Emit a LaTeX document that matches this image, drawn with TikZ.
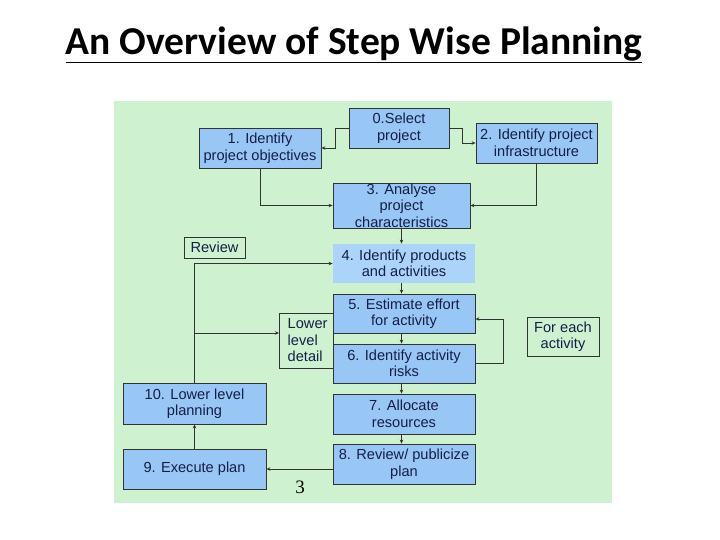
\documentclass[tikz,border=0pt]{standalone}
\usepackage{fontspec}
\setmainfont{Liberation Sans}
\newfontfamily\titlefont{Carlito}
\newfontfamily\seriffont{Liberation Serif}
\usetikzlibrary{arrows.meta}
\definecolor{panel}{RGB}{206,242,208}
\definecolor{boxblue}{RGB}{153,199,245}
\definecolor{boxlight}{RGB}{172,212,250}
\definecolor{txt}{RGB}{20,30,70}
\begin{document}
\begin{tikzpicture}[x=1pt,y=-1pt,
  stepbox/.style={draw=black!80,line width=0.8pt,fill=boxblue,text=txt,align=center,inner sep=0pt,font=\fontsize{14.6}{16.5}\selectfont},
  plainbox/.style={draw=black!80,line width=0.8pt,text=txt,align=center,inner sep=0pt,font=\fontsize{14.6}{16.5}\selectfont},
  conn/.style={draw=black!80,line width=0.8pt,-{Stealth[length=4pt,width=3.5pt]}}]
\useasboundingbox (0,0) rectangle (720,540);
\fill[white] (0,0) rectangle (720,540);
\fill[panel] (114,101) rectangle (612,503);
\node[font=\titlefont\bfseries\fontsize{39.5}{44}\selectfont] (title) at (354,45) {\underline{An Overview of Step Wise Planning}};
\node[stepbox,minimum width=100pt,minimum height=40pt] (s0) at (399,128) {0.Select\\project};
\node[stepbox,minimum width=122pt,minimum height=40pt] (s1) at (260,148) {1. Identify\\project objectives};
\node[stepbox,minimum width=121pt,minimum height=40pt] (s2) at (536.5,143) {2. Identify project\\infrastructure};
\node[stepbox,minimum width=137pt,minimum height=45pt] (s3) at (401.5,205.5) {3. Analyse\\project\\characteristics};
\node[plainbox,minimum width=61pt,minimum height=21pt] (rev) at (214.5,247.5) {Review};
\node[stepbox,draw=none,fill=boxlight,minimum width=142pt,minimum height=39pt] (s4) at (404,263.5) {4. Identify products\\and activities};
\node[stepbox,minimum width=142pt,minimum height=39pt] (s5) at (404,313.5) {5. Estimate effort\\for activity};
\node[stepbox,minimum width=142pt,minimum height=39pt] (s6) at (404,363.5) {6. Identify activity\\risks};
\node[plainbox,minimum width=54pt,minimum height=55pt,align=left,anchor=west] (lld) at (279,340.5) {\,Lower\\\,level\\\,detail};
\node[plainbox,minimum width=72pt,minimum height=39pt] (each) at (563,336.5) {For each\\activity};
\node[stepbox,minimum width=142pt,minimum height=40pt] (s7) at (404,414) {7. Allocate\\resources};
\node[stepbox,minimum width=142pt,minimum height=40pt] (s8) at (404,464) {8. Review/ publicize\\plan};
\node[stepbox,minimum width=143pt,minimum height=41pt] (s10) at (194.5,403.5) {10. Lower level\\planning};
\node[stepbox,minimum width=143pt,minimum height=40pt] (s9) at (194.5,469) {9. Execute plan};
\node[font=\seriffont\fontsize{19}{22}\selectfont] (pg) at (300,487) {3};
\coordinate (c0) at (195,333);
\draw[conn] (s0.west) -| (335,148) -- (s1.east);
\draw[conn] (s0.east) -| (462,143) -- (s2.west);
\draw[conn] (s1.south) |- (s3.west);
\draw[conn] (s2.south) |- (s3.east);
\draw[conn] (s3.south) -- (s3.south |- s4.north);
\draw[conn] (s4.south -| s3.south) -- (s3.south |- s5.north);
\draw[conn] (s5.south -| s3.south) -- (s3.south |- s6.north);
\draw[conn] (s6.south -| s3.south) -- (s3.south |- s7.north);
\draw[conn] (s7.south -| s3.south) -- (s3.south |- s8.north);
\draw[conn] (s6.east) -| (503,319) -- (s5.east |- 0,319);
\draw[conn] (s8.west |- s9.east) -- (s9.east);
\draw[conn] (s9.north) -- (s10.south);
\draw[conn] (s10.north) |- (s4.west);
\draw[conn] (c0) -- (lld.west |- c0);
\end{tikzpicture}
\end{document}
